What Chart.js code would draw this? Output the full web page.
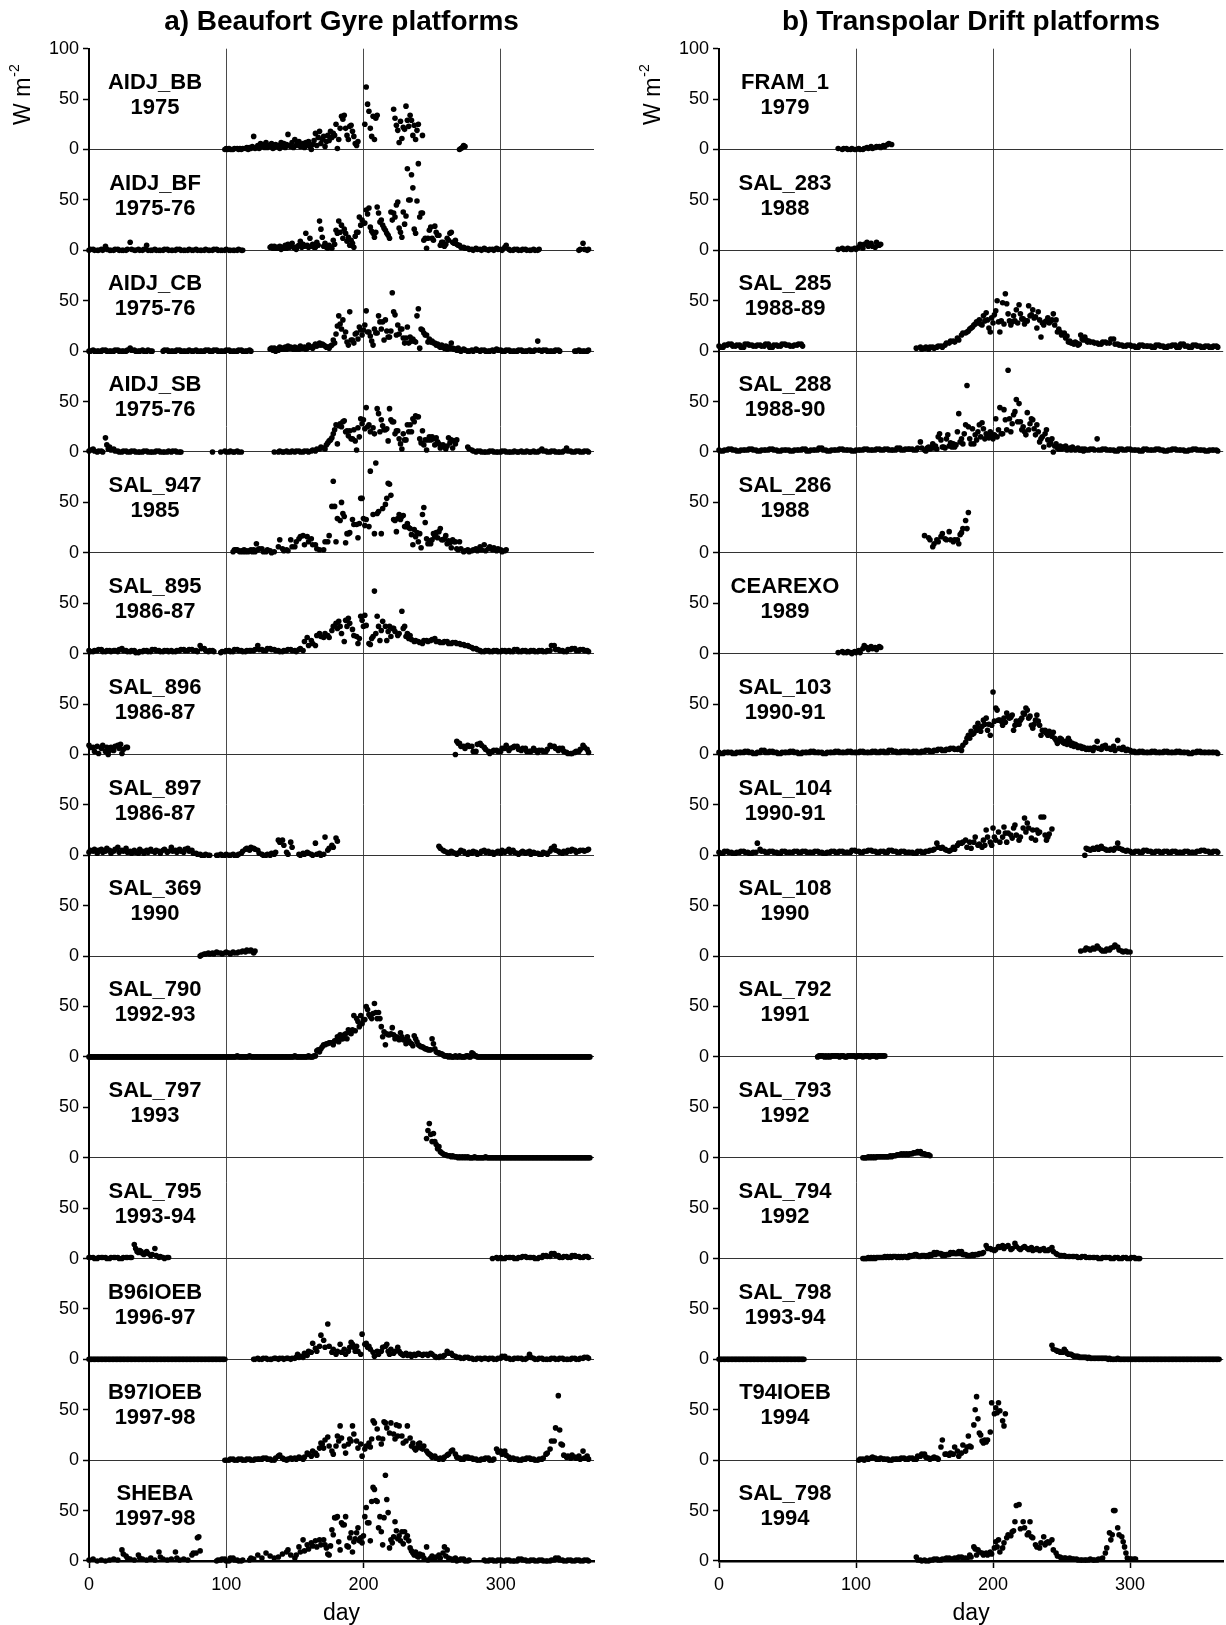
<!DOCTYPE html>
<html>
<head>
<meta charset="utf-8">
<title>Beaufort Gyre and Transpolar Drift platforms</title>
<script src="https://cdn.jsdelivr.net/npm/chart.js@4.4.0/dist/chart.umd.min.js"></script>
<style>
  html, body { margin: 0; padding: 0; background: #fff; }
  #wrap { position: relative; width: 1226px; height: 1625px; }
  canvas { position: absolute; top: 0; }
  #left { left: 0; }
  #right { left: 627px; }
</style>
</head>
<body>
<div id="wrap">
  <canvas id="left" width="613" height="1625"></canvas>
  <canvas id="right" width="599" height="1625"></canvas>
</div>
<script>
// values per 3-day slot (day 0, 3, 6 ... 363), one row = 30 days
// "a/b/c" = consecutive daily values inside the slot, "." = no data
const DAY_STEP = 3;
const DAY_MAX = 368;
const dayTicks = [0, 100, 200, 300];
const fluxTicksTop = [0, 50, 100];
const fluxTicks = [0, 50];

// a) Beaufort Gyre
const aidjBB_1975 = `
. . . . . . . . . .
. . . . . . . . . .
. . . . . . . . . .
. . . 0/1/0 1/0/0 0/1 1/0/1 0/1 1/2/0 2/1/3
13/1/2 4/1/6 3/5/2 7/2/4 3/6/1 2/5/3 4/1/7 3/6/2 5/15/4 3/7/2
10/4/6 8/3/5 6/2/7 4/8/3 0/5/9 16/4/12 18/6/10 13/3/8 14/9/18 12/16/14
25/1/10 21/33/30 34/21/14 10/23/24 18/13/6 4/8 . 25/62/45 38/21/13 33/10/31
34 . . . 40/31/24 19/7/28 11/22/20 43/29/23 34/29/14 24/10/19
25 14 . . . . . . . .
0/1/2 4/3 . . . . . . . .
. . . . . . . . . .
. . . . . . . . . .
. .`;

const aidjBF_1975_76 = `
0/1 1/0 0/0 1/0 4/1 0/0 0/1 1/0 0/0 0/1
8/1 0/0 1/0 0/1 5/0 0/0 1/0 0/0 0/1 1/0
0/0 0/1 1/0 0/0 0/1 0/0 1/0 0/0 0/1 0/0
0/1 1/0 0/0 0/1 0/0 0/0 0/1 0/0 . .
. . . . 3/4/2 4/2/3 2/4/1 3/2/5 2/6/3 4/7/3
2/1/4 5/9/3 6/4/17 5/3/12 4/6/3 3/8/5 29/21/13 4/7/3 2/5/3 2/10/6
20/17/29 18/25/12 21/17/9 13/5/10 7/3/14 18/18/33 25/30/27 27/40/36 42/23/19 17/13/18
43/37/28 30/25/22 20/17/15 12/38/30 37/33/45 48/22/18 13/38/26 34/81/50 50/75/62 21/17/49
86/33/37 37/10/12 2/12/20 23/12/10 24/18/15 15/5/8 8/4/6 12/10/17 18/8/7 10/6/5
5/3 3/2 2/1 1/0 2/1 1/0 2/1 0/1 1/0 2/1
1/0 3/5 1/0 0/1 1/0 0/1 1/0 0/0 1/0 0/1
. . . . . . . . . 0/1
7/1 0/1`;

const aidjCB_1975_76 = `
0/0 1/0 0/0 0/1 1/0 0/0 0/1 1/0 0/0 0/1
3/1 1/0 0/0 1/0 0/1 0/0 . . 0/1 1/0
0/0 0/1 1/0 0/0 0/1 0/0 1/0 0/0 0/1 1/0
0/1 1/0 0/0 0/1 1/0 0/0 0/1 1/0 0/0 1/0
. . . . 2/3/1 3/0/2 1/4/2 3/2/4 2/5/3 4/3/2
4/2/3 2/5/3 3/4/2 3/6/4 4/3/5 7/5/6 8/6/7 6/5/4 4/3/5 6/11/8
17/25/35 27/22/31 14/19/9 6/39/11 11/8/17 18/12/24 21/16/21 26/40/19 19/15/10 6/22/18
18/35/29 22/29/11 31/20/14 14/20/58 39/36/16 26/17/22 22/13/8 13/24/8 14/10/12 10/9/35
42/3/22 21/18/16 16/9/12 9/10/8 8/6/7 5/4/6 4/3/5 2/4/3 8/3/2 2/1/3
1/0 2/1 0/0 1/0 2/1 0/1 1/0 0/0 1/0 2/1
1/0 0/1 1/0 0/0 0/1 1/0 0/0 1/0 0/1 10/1
0/1 1/0 0/0 0/1 1/0 . . . 0/0 1/0
0/0 0/1`;

const aidjSB_1975_76 = `
1/2 3/1 0/1 1/0 14/7/3 5/2 3/1 1/0 0/1 1/0
0/1 1/0 0/0 0/1 1/0 0/0 0/1 1/0 0/0 0/1
0/1 1/0 0/0 . . . . . . .
0 . 0 1/0 0/1 0/0 1/0 0 . .
. . . . . 0 0/1 0/0 1/0 0/1
0/1 1/0 0/1 1/0 1/2 1/3 3/5 4/3/7 9/11/12 14/18/22
27/8/26 28/25/30 31/20/21 16/21/13 13/22/11 2/24/15 33/28/32 23/44/25 27/20 24/18
43/38/20 32/26/22 22/23/11 43/32/30 30/18/21 21/13/8 3/18/12 12/27/20 27/20/33 30/36/35
35/13/9 21/7/12 2/12/15 12/15/13 7/14/10 8/4/6 7/5/3 6/14/9 12/4/11 8/12
. . 5/3 2/1 0/1 1/0 0/0 0/1 1/0 0/0
0/1 1/0 0/0 0/1 0/0 1/0 0/1 0/0 1/0 0/1
3/1 1/0 0/1 1/0 0/0 0/1 4/1 1/0 0/1 1/0
0/1 1/0`;

const sal947_1985 = `
. . . . . . . . . .
. . . . . . . . . .
. . . . . . . . . .
. . . . . 1/3/3 3/2/1 2/1/3 1/2/1 2/3/1
3/1/9 3/4 4/1 1/3 2/0 1 6/13 4/2 3/2 13/6
6/11 14/16 17/8 16/11 14/8 8/4 3 3/11 11/17 46/71/46
11/34 32/50/39 36/10/19 19/20 33/28 28/15/29 54/54/34 27/33 26/81 38/19/89
39/41 19/44 48/54/69 68/57 33/32/21 34/38/33 36/37/26 26/29/25 24/18/8 23/16/20
11/19/5 38/45/30 14/9/12 9/13/19 16/20/15 21/24/13 13/14/17 9/12/10 5/13/11 11/4/3
11/4 1/2 3/1 2/3 4/2 6/3 8/2 4/6 3/5 2/4
3/1 2/3 . . . . . . . .
. . . . . . . . . .
. .`;

const sal895_1986_87 = `
3/2 2/3 3/4 4/2 2/3 3/2 3/3 2/4 5/3 3/2
2/3 3/1 1/2 2/3 3/2 2/4 4/3 3/2 2/3 3/2
3/2 2/3 3/4 4/3 3/4 4/3 3/2 8/5 5/3 2/3
3/2 . 1/2 2/3 3/2 2/4 4/3 3/2 2/3 3/3
3/4 8/4 4/3 3/5 5/4 4/3 3/2 2/3 3/4 4/3
3/2 4/5 3/12 16/8 13/10 8/18 20/17 16/20 18/16 23/27
30/25/32 27/20 12/33/27 35/30 24/18 17/10/15 37/33/27 38/28 10/9/15 17/62/20
37/27/13 23/32 27/13/22 27/17/25 25/22 18/20 42/25/27 17/20/15 18/14 12/13
12/11 10/13 13/12 13/14 15/12 12/11 11/12 12/10 10/11 11/10
10/9 9/8 8/7 6/5 5/4 3/2 2/3 3/2 2/3 3/2
2/3 3/2 3/2 2/4 4/2 2/3 3/2 2/3 3/2 2/3
3/2 2/3 3/8 8/4 4/3 3/2 2/4 4/5 5/3 3/4
4/3 3/2`;

const sal896_1986_87 = `
9/7 7/3 8/1 6/9 3/7/0 4/7 4/8 9/6/10 1/5 7/7
. . . . . . . . . .
. . . . . . . . . .
. . . . . . . . . .
. . . . . . . . . .
. . . . . . . . . .
. . . . . . . . . .
. . . . . . . . . .
. . . . . . . . . 0/13/11
11/8 8/6 9/8 8/3 3/10 11/9 7/5 3/1 3/4 4/3
3/6 6/9 4/6 7/8 8/5 4/6 6/3 3/3 6/4 2/4
4/3 3/5 9/8 8/6 4/6 6/3 2/1 1/1 2/3 3/5
9/7 5/2`;

const sal897_1986_87 = `
3/5 4/6 2/5 6/3 4/7 5/2 4/6 8/3 5/4 7/3
4/2 5/3 2/6 4/2 5/3 6/4 3/5 4/2 5/6 3/4
8/4 5/3 6/4 3/6 7/4 5/2 2/1 1/0 0/1 0/0
. 0/0 1/0 0/1 0/0 1/0 0/1 2/4 6/7 5/8
7/6 5/2 1/0 0/1 0/2 1/3 15/13 15/10 3/1 13/8
. 1/0 2/1 3/2 1/0 12/1 2/0 1/18 5/7 10/8
17/14 . . . . . . . . .
. . . . . . . . . .
. . . . . 9/7 5/4 3/2 4/3 2/1
3/5 4/2 1/3 2/4 3/1 2/4 5/3 4/2 3/1 3/4
2/5 3/4 6/3 5/3 2/1 3/4 2/3 4/1 3/2 2/1
1/3 2/1 4/7 9/5 4/3 2/4 3/5 4/6 5/3 4/5
5/4 5/6`;

const sal369_1990 = `
. . . . . . . . . .
. . . . . . . . . .
. . . . . . . 0/1 2/2 3/2
3/2 4/3 3/2 3/4 3/2 4/3 3/4 4/5 4/6 5/6
3/5 . . . . . . . . .
. . . . . . . . . .
. . . . . . . . . .
. . . . . . . . . .
. . . . . . . . . .
. . . . . . . . . .
. . . . . . . . . .
. . . . . . . . . .
. .`;

const sal790_1992_93 = `
0/0/0 0/0/0 0/0/0 0/0/0 0/0/0 0/0/0 0/0/0 0/0/0 0/0/0 0/0/0
0/0/0 0/0/0 0/0/0 0/0/0 0/0/0 0/0/0 0/0/0 0/0/0 0/0/0 0/0/0
0/0/0 0/0/0 0/0/0 0/0/0 0/0/0 0/0/0 0/0/0 0/0/0 0/0/0 0/0/0
0/0/0 0/0/0 0/0/0 0/0/0 0/0/0 0/0/0 1/0/0 0/0/0 0/0/0 1/0/0
0/0/0 0/0/0 0/0/0 0/0/0 0/0/0 0/0/0 0/0/0 0/0/0 0/0/0 0/0/0
1/0/0 0/0/0 0/0/0 0/1/0 0/0/1 1/6/7 5/8/10 12/12/13 13/14/14 14/12/16
16/20/15 22/18/18 22/23/18 27/24/23 27/41/26 38/35/30 41/33/37 37/50/47 42/40/38 43/53/44
38/44/38 30/20/25 12/23/22 22/23/29 22/18/20 19/17/24 20/17/17 13/20/16 14/13/11 21/18/15
12/11/10 10/9/8 8/7/7 7/18/13 8/5/4 4/3/3 2/1/1 1/0/1 0/0/0 1/0/0
1/0/0 0/0/1 1/0/0 4/3/1 1/0/0 0/0/0 0/0/0 0/0/0 0/0/0 0/0/0
0/0/0 0/0/0 0/0/0 0/0/0 0/0/0 0/0/0 0/0/0 0/0/0 0/0/0 0/0/0
0/0/0 0/0/0 0/0/0 0/0/0 0/0/0 0/0/0 0/0/0 0/0/0 0/0/0 0/0/0
0/0/0 0/0/0`;

const sal797_1993 = `
. . . . . . . . . .
. . . . . . . . . .
. . . . . . . . . .
. . . . . . . . . .
. . . . . . . . . .
. . . . . . . . . .
. . . . . . . . . .
. . . . . . . . . .
. . 19/27/34 23/16/24 16/13/9 11/6/5 4/3/3 2/2/2 1/2/1 1/1/0
1/0/1 0/1/0 1/0/0 0/0/1 0/0/0 0/0/0 0/1/0 0/0/0 0/0/0 0/0/0
0/0/0 0/0/0 0/0/0 0/0/0 0/0/0 0/0/0 0/0/0 0/0/0 0/0/0 0/0/0
0/0/0 0/0/0 0/0/0 0/0/0 0/0/0 0/0/0 0/0/0 0/0/0 0/0/0 0/0/0
0/0/0 0/0/0`;

const sal795_1993_94 = `
1/1 1/0 0/1 1/1 1/0 0/1 1/1 1/0 0/1 1/1
1/1 14/10/7 6/8/7 5/4 7/5 3/4 10/3 1/2 1/0 1/1
. . . . . . . . . .
. . . . . . . . . .
. . . . . . . . . .
. . . . . . . . . .
. . . . . . . . . .
. . . . . . . . . .
. . . . . . . . . .
. . . . . . . . 0 1/0
1/0 0/1 1/1 1/0 0/1 1/2 2/1 1/1 1/0 0/1
1/3 3/2 2/5 5/3 3/1 1/2 2/1 1/3 3/2 2/1
1/2 2/1`;

const b96ioeb_1996_97 = `
0/0/0 0/0/0 0/0/0 0/0/0 0/0/0 0/0/0 0/0/0 0/0/0 0/0/0 0/0/0
0/0/0 0/0/0 0/0/0 0/0/0 0/0/0 0/0/0 0/0/0 0/0/0 0/0/0 0/0/0
0/0/0 0/0/0 0/0/0 0/0/0 0/0/0 0/0/0 0/0/0 0/0/0 0/0/0 0/0/0
0/0/0 0/0/0 0/0/0 0 . . . . . .
0/0 1/0 0/1 1/0 0/0 1/1 0/1 1/0 1/1 0/1
1/2/5 2/3 2/6 4/8 7/16 11/8 13/24 19/12 35/13 7/10
5/8 15/7 10/5 8/12/17 15/12/8 13/8 5/25 15/16/12 13/10 7/3
8/5 8/12 13/15/8 5/10 6/8 12/8/6 5/4 6/4 5/3 5/4
6/5 4/5 5/4 6/5 3/2 2/3 3/4 8/6 6/4 3/2
2/1 1/2 2/1 1/0 0/1 1/0 1/1 0/1 1/0 0/1
1/3 3/1 1/0 0/1 1/1 1/0 0/1 5/2 1/0 0/1
1/0 0/0 0/1 1/0 0/1 1/0 0/0 0/1 1/0 0/1
1/2 2/1`;

const b97ioeb_1997_98 = `
. . . . . . . . . .
. . . . . . . . . .
. . . . . . . . . .
. . . 0/0 0/1 1/0 0/1 1/0 0/1 1/0
0/1 1/1 1/2 2/1 1/0 0/2 4/5 2/1 0/1 2/1
2/1 3/2 1/3 7/6 4/9 7/5 12/17/16 12/20 23/14 9/6
14/24/19 34/22 14/7 16/21/19 34/26 19/12 16/4 11/14 17/13/21 39/37
31/22 16/21/38 37/32 27/37 26/21/35 24/34 24/17 19/34 22/14/17 12/10/12
16/17/12 11/14 9/7/6 5/3 4/2 1/2 1/3 5/6 9/10 6/3
2/1 1/3 3/2 2/1 1/0 0/1 1/2 2/0 0/1 11/8
9/6 9/5 3/1 2/1 1/0 0/1 1/2 2/1 1/0 0/1
1/2 6/7 11/19 19/32 64/30/16 15/5 3/4 2/5 3/2 4/1
9/2 4/1`;

const sheba_1997_98 = `
1 2 0 1 0 1 2 1 11/7 5/3
2 1 6/3 2 1 3 1 9/4 2 1
2 9/3 1 2 1 6/8 8/23/24 10 . .
. 0/1 1/2 2/0 0/3 3/1 1/0 0/1 . 1/3
2 6 3 8 5 3 4 7 9/11 6
3/6 14/9 21/10 16/12 18/15 20/14 21/16 21/16/13 7/6/15 31/26/43
43/44/19 11/38/36 36/44/15 14/23/28 9/19/22 28/33/20 23/18/25 44/53/38 38/20/59 73/71/60
59/33/44 29/16/43 85/61/48 13/21/18 24/39/30 22/25/20 29/17/29 23/25/20 13/10/8 6/9/5
4/7 6/3 14/1 3/5 2/4 6/3 8/14/5 11/3 2/1 3/0
1/2 2/0 0/1 . . . 1/0 0/1 1/0 0/1
1/0 0/1 1/0 0/0 0/2 2/1 1/0 0/1 1/0 0/1
1/0 0/0 0/1 1/3 3/1 1/0 0/1 1/0 0/1 1/0
0/1 1/0`;

// b) Transpolar Drift
const fram1_1979 = `
. . . . . . . . . .
. . . . . . . . . .
. . . . . . . . . 1
0/1 1/0 0/1 0/0 1/0 0/1 2/1 3/1 2/3 3/2
4/3 5/6 5 . . . . . . .
. . . . . . . . . .
. . . . . . . . . .
. . . . . . . . . .
. . . . . . . . . .
. . . . . . . . . .
. . . . . . . . . .
. . . . . . . . . .
. .`;

const sal283_1988 = `
. . . . . . . . . .
. . . . . . . . . .
. . . . . . . . . 1
2/1 1/2 1/1 2/1 3/6 2/6 8/4 7/4 3/8 5/6
. . . . . . . . . .
. . . . . . . . . .
. . . . . . . . . .
. . . . . . . . . .
. . . . . . . . . .
. . . . . . . . . .
. . . . . . . . . .
. . . . . . . . . .
. .`;

const sal285_1988_89 = `
5/4 4/6 6/7 7/5 5/6 6/4 4/7 7/6 6/5 5/6
6/5 5/7 7/4 4/6 6/5 5/7 7/6 6/5 5/6 6/7
7/5 . . . . . . . . .
. . . . . . . . . .
. . . . . . . . 3 4/2
3/4 2/4 4/3 4/5 5/4 6/8 8/10 10/9 13/11 16/18
18/19/20 22/23/24 26/27/29 28/31/27 26/35/30 38/31/23 19/33/28 36/40/50 29/19/30 48/27/57
47/37/30 26/29/35 30/41/28 46/37/32 32/27/30 30/45/35 36/41/33 34/23/39 31/14/28 26/29/30
33/28/30 31/37/26 31/19/22 19/16 18/13/15 9/10/8 8/7/9 8/6/7 16/12/11 14/11/9
10/9 9/8 8/7 7/9 9/8 8/12 12/7 7/6 6/5 5/6
6/5 5/4 4/6 6/5 5/5 5/4 4/6 6/5 5/4 4/5
5/6 6/4 4/7 7/5 5/4 4/6 6/5 5/4 4/5 5/4
4/5 5/4`;

const sal288_1988_90 = `
2/1 1/2 2/3 3/2 2/1 1/2 2/2 2/3 3/2 2/1
1/2 2/2 2/3 3/2 2/1 1/2 2/2 2/1 1/2 2/2
2/3 3/1 1/2 2/2 2/4 4/2 2/1 1/2 2/2 2/3
3/2 2/2 2/1 1/2 2/2 2/3 3/2 2/2 2/3 3/2
2/3 3/2 2/2 2/4 4/2 2/3 3/3 3/2 2/4 10/4
2/1/4 5/3/4 8/4/6 3/15/18 12/5/5 4/13/17 6/9/5 8/5/7 20/38/10 13/8/18
27/66/25 13/8/23 8/17/12 20/27/15 29/23/13 18/16/14 20/17/13 17/33/15 22/44/18 18/42/32
22/81/33 20/28/37 40/52/30 48/30/22 25/20/17 39/22/28 33/32/23 17/27/20 10/13/15 5/18/22
12/7/9 13/0/6 8/4/3 6/3/5 4/6/2 3/4/2 5/3/2 3/4/2 2/3/1 3/2
2/3 3/2 13/2 2/3 3/2 2/2 2/1 1/3 3/2 2/3
3/2 2/2 2/1 1/3 3/2 2/2 2/3 3/2 2/1 1/2
2/3 3/2 2/2 2/1 1/2 2/3 3/2 2/2 2/1 1/2
2/2 2/1`;

const sal286_1988 = `
. . . . . . . . . .
. . . . . . . . . .
. . . . . . . . . .
. . . . . . . . . .
. . . . . . . . . .
17 15/13 6/9 13/11 16/19 14/13 21/13 11/13 13/9/18 20/24
32/24/40 . . . . . . . . .
. . . . . . . . . .
. . . . . . . . . .
. . . . . . . . . .
. . . . . . . . . .
. . . . . . . . . .
. .`;

const cearexo_1989 = `
. . . . . . . . . .
. . . . . . . . . .
. . . . . . . . . 1
2/1 1/2 1/0 2/1 3/1 5/8 6/4 7/5 6/4 7/6
. . . . . . . . . .
. . . . . . . . . .
. . . . . . . . . .
. . . . . . . . . .
. . . . . . . . . .
. . . . . . . . . .
. . . . . . . . . .
. . . . . . . . . .
. .`;

const sal103_1990_91 = `
2/1 1/2 2/2 2/1 1/2 2/2 2/3 3/2 2/1 1/2
2/4 4/2 2/3 3/2 2/1 1/2 2/2 2/3 3/2 2/1
1/2 2/2 2/3 3/2 2/2 2/1 1/2 2/2 2/3 3/2
2/2 2/3 3/2 2/2 2/3 3/2 2/2 2/3 3/2 2/3
3/2 2/4 4/3 3/2 2/3 3/3 3/2 2/3 3/2 2/3
3/4 4/3 3/4 4/5 5/4 4/5 5/6 6/5 5/6 4/9
12/16/19 16/23/20 21/27/24 31/26/23 28/34/30 36/24/30 19/29/62 33/46/44 34/34/33 29/36/32
41/38/36 37/39/24 29/33/30 30/34/36 41/40/46 44/36/38 29/26/30 34/39/33 29/19/24 23/24/21
19/23/20 18/22/16 14/11/13 16/15/12 11/13/10 16/13/9 11/8/10 9/7/8 8/6/7 6/5/6
5/6 4/7 13/6 5/8 9/6 6/5 8/4 14/6 5/7 4/5
4/3 3/2 2/3 3/2 2/2 2/3 3/2 2/2 2/3 3/2
2/2 2/3 3/2 2/2 2/1 1/2 2/3 3/2 2/2 2/2
2/2 2/1`;

const sal104_1990_91 = `
3/2 2/4 4/3 3/2 2/3 3/4 4/3 3/2 2/3 3/12
6/4 4/3 3/4 4/3 3/2 2/4 4/3 3/3 3/4 4/3
3/4 4/3 3/3 3/4 4/3 3/2 2/3 3/4 4/3 3/4
4/3 3/3 3/5 5/4 4/3 3/4 4/5 5/4 4/3 3/4
4/3 3/5 5/4 4/3 3/4 4/3 3/3 3/2 2/4 4/3
3/4 4/5 5/6 12/8 7/8 6/5 4/5 8/6 10/12 12/13
15/8 13/7 13/18 10/11 8/15/10 25/18 13/10/27 18/15 23/13 18/28/22
13/22 20/17/27 30/20 15/18 27/37/23 32/27 17/25 15/25/22 23/38 38/20/15
18/21 26 . . . . . . . 0/7/6
6/5 7/6 8/6 9/7 6/5 5/6 5/7 12/7 6/5 4/5
4/3 3/4 4/3 3/5 5/4 4/3 3/4 4/3 3/4 4/3
3/4 4/3 3/3 3/4 4/3 3/3 3/4 4/5 5/4 4/3
3/4 4/3`;

const sal108_1990 = `
. . . . . . . . . .
. . . . . . . . . .
. . . . . . . . . .
. . . . . . . . . .
. . . . . . . . . .
. . . . . . . . . .
. . . . . . . . . .
. . . . . . . . . .
. . . . . . . . 5 6/8
7/6 8/7 10/8 6/5 5/7 6/8 9/11 9/6 5/4 5/4
4 . . . . . . . . .
. . . . . . . . . .
. .`;

const sal792_1991 = `
. . . . . . . . . .
. . . . . . . . . .
. . . . 0/1/1 1/1/0 1/0/1 0/1/1 1/1/1 1/0/1
1/1/0 0/1/1 1/1/1 1/0/1 1/1/1 0/1/1 1/1/0 1/1/1 1/0/1 1/1/1
1/1 . . . . . . . . .
. . . . . . . . . .
. . . . . . . . . .
. . . . . . . . . .
. . . . . . . . . .
. . . . . . . . . .
. . . . . . . . . .
. . . . . . . . . .
. .`;

const sal793_1992 = `
. . . . . . . . . .
. . . . . . . . . .
. . . . . . . . . .
. . . . . 0/0/0 0/1/0 1/0/1 0/1/1 1/1/1
1/1/1 1/1/2 1/2/2 2/3/3 3/4/3 4/3/4 3/4/4 4/5/5 5/6/5 6/4/4
4/3/3 3/2 . . . . . . . .
. . . . . . . . . .
. . . . . . . . . .
. . . . . . . . . .
. . . . . . . . . .
. . . . . . . . . .
. . . . . . . . . .
. .`;

const sal794_1992 = `
. . . . . . . . . .
. . . . . . . . . .
. . . . . . . . . .
. . . . . 0/0/0 0/1/0 1/0/1 0/1/1 1/1/1
1/2/1 2/1/2 1/2/2 2/1/2 1/2/1 2/2/1 1/3/2 3/3/4 4/3/2 2/3/3
3/2/3 2/4/3 4/6/4 6/5/5 5/3/4 3/4/4 4/6/5 6/5/5 5/7/5 7/4/4
4/3/3 3/3/4 3/4/4 4/5/5 5/6 13/10 10/9 8/9 12/11 13/10
12/13 9/10 15/12 10/9 11/12 10/9 11/8 9/10 8/9 10/8
8/9 11/7 5/4 3/3 3/2 2/2 2/2 2/1 1/2 2/1
1/1 1/1 1/0 0/1 1/1 1/0 0/1 1/0 0/1 1/0
0/1 1/0 0/0 . . . . . . .
. . . . . . . . . .
. .`;

const sal798_1993_94 = `
0/0/0 0/0/0 0/0/0 0/0/0 0/0/0 0/0/0 0/0/0 0/0/0 0/0/0 0/0/0
0/0/0 0/0/0 0/0/0 0/0/0 0/0/0 0/0/0 0/0/0 0/0/0 0/0/0 0/0/0
0/0/0 . . . . . . . . .
. . . . . . . . . .
. . . . . . . . . .
. . . . . . . . . .
. . . . . . . . . .
. . . . . . . . . .
. 14/10 9/8/8 7/7/7 10/8/6 5/5/5 4/3/3 3/3/2 2/2/2 2/2/1
2/1/1 1/1/1 1/1/1 1/1/1 1/1/0 1/0/0 0/0/0 1/0/0 0/0/0 0/0/0
0/0/0 0/0/0 0/0/0 0/0/0 0/0/0 0/0/0 0/0/0 0/0/0 0/0/0 0/0/0
0/0/0 0/0/0 0/0/0 0/0/0 0/0/0 0/0/0 0/0/0 0/0/0 0/0/0 0/0/0
0/0/0 0/0/0`;

const t94ioeb_1994 = `
. . . . . . . . . .
. . . . . . . . . .
. . . . . . . . . .
. . . . 0/1 1/0 2/1 2/3 2/1 1/2
1/1 1/0 0/1 1/1 1/2 2/1 1/2 2/1 1/4 4/6
6/3 2/1 2/3 2/1 13/20 6/6 5/7 6/13 9/4 7/15
9/13/24 14/13 35/50/63 41/27/25 19/17/20 18/20 28/57 46/52/47 57/49 39/34/46
. . . . . . . . . .
. . . . . . . . . .
. . . . . . . . . .
. . . . . . . . . .
. . . . . . . . . .
. .`;

const sal798_1994 = `
. . . . . . . . . .
. . . . . . . . . .
. . . . . . . . . .
. . . . . . . . . .
. . . . . . . . 4/1 1/0
1/0 0/1 1/2 2/1 1/2 2/3 3/2 2/3 3/4 4/3
3/2 6/4 14/12/6 11/9 8/6 8/6 9/7 13/19/14 21/9 13/18
23/26 25/29/30 39/55 56/32 39/33 26/28/39 24/23 16/14 13/18 24/16/18
19/18 21/11 8/5 4/3 3/3 2/3 2/2 2/1 1/1 1/1
1/2 1/1 1/2 2/3 8/13 28/21/26 50/50 33/26 24/19/14 8/3
2/2 2/2 . . . . . . . .
. . . . . . . . . .
. .`;

const beaufortNames = ["AIDJ_BB", "AIDJ_BF", "AIDJ_CB", "AIDJ_SB", "SAL_947", "SAL_895", "SAL_896",
  "SAL_897", "SAL_369", "SAL_790", "SAL_797", "SAL_795", "B96IOEB", "B97IOEB", "SHEBA"];
const beaufortYears = ["1975", "1975-76", "1975-76", "1975-76", "1985", "1986-87", "1986-87",
  "1986-87", "1990", "1992-93", "1993", "1993-94", "1996-97", "1997-98", "1997-98"];
const beaufortSeries = [aidjBB_1975, aidjBF_1975_76, aidjCB_1975_76, aidjSB_1975_76, sal947_1985,
  sal895_1986_87, sal896_1986_87, sal897_1986_87, sal369_1990, sal790_1992_93, sal797_1993,
  sal795_1993_94, b96ioeb_1996_97, b97ioeb_1997_98, sheba_1997_98];

const transpolarNames = ["FRAM_1", "SAL_283", "SAL_285", "SAL_288", "SAL_286", "CEAREXO", "SAL_103",
  "SAL_104", "SAL_108", "SAL_792", "SAL_793", "SAL_794", "SAL_798", "T94IOEB", "SAL_798"];
const transpolarYears = ["1979", "1988", "1988-89", "1988-90", "1988", "1989", "1990-91",
  "1990-91", "1990", "1991", "1992", "1992", "1993-94", "1994", "1994"];
const transpolarSeries = [fram1_1979, sal283_1988, sal285_1988_89, sal288_1988_90, sal286_1988,
  cearexo_1989, sal103_1990_91, sal104_1990_91, sal108_1990, sal792_1991, sal793_1992,
  sal794_1992, sal798_1993_94, t94ioeb_1994, sal798_1994];

const FONT = "'Liberation Sans', Arial, Helvetica, sans-serif";
Chart.defaults.font.family = FONT;
Chart.defaults.color = '#000';

function toPoints(series) {
  const pts = [];
  series.trim().split(/\s+/).forEach((tok, slot) => {
    if (tok === '.') return;
    tok.split('/').forEach((v, k) => {
      pts.push({ x: slot * DAY_STEP + k, y: Number(v) });
    });
  });
  return pts;
}

// platform names, years and the W m-2 unit
const panelLabels = {
  id: 'panelLabels',
  afterDraw(chart, args, opts) {
    const { ctx, chartArea } = chart;
    ctx.save();
    ctx.fillStyle = '#000';
    ctx.textAlign = 'center';
    ctx.textBaseline = 'middle';
    ctx.font = 'bold 22px ' + FONT;
    opts.names.forEach((name, i) => {
      const sc = chart.scales['y' + i];
      const x = chartArea.left + 66;
      ctx.fillText(name, x, sc.top + 34);
      ctx.fillText(opts.years[i], x, sc.top + 59);
    });

    const top = chart.scales.y0;
    ctx.translate(chartArea.left - 65, (top.top + top.bottom) / 2 - 4);
    ctx.rotate(-Math.PI / 2);
    ctx.textAlign = 'left';
    ctx.font = '23px ' + FONT;
    const w1 = ctx.measureText('W m').width;
    ctx.font = '14px ' + FONT;
    const w2 = ctx.measureText('-2').width;
    const start = -(w1 + w2) / 2;
    ctx.font = '23px ' + FONT;
    ctx.fillText('W m', start, 0);
    ctx.font = '14px ' + FONT;
    ctx.fillText('-2', start + w1 + 1, -9);
    ctx.restore();
  }
};

function makeColumn(canvasId, title, names, years, series, axisWidth, padRight) {
  const scales = {
    x: {
      type: 'linear',
      position: 'bottom',
      min: 0,
      max: DAY_MAX,
      afterBuildTicks: sc => { sc.ticks = dayTicks.map(v => ({ value: v })); },
      afterFit: sc => { sc.height = 64; },
      grid: {
        color: c => (c.tick && c.tick.value === 0) ? 'rgba(0,0,0,0)' : '#4a4a4a',
        lineWidth: 1,
        tickLength: 7,
        tickColor: '#000',
        tickWidth: 1.5
      },
      border: { color: '#000', width: 2.5 },
      ticks: { color: '#000', font: { size: 18 }, padding: 6, maxRotation: 0 },
      title: { display: true, text: 'day', color: '#000', font: { size: 23, lineHeight: 1 }, padding: 0 }
    }
  };

  series.forEach((s, i) => {
    scales['y' + i] = {
      type: 'linear',
      position: 'left',
      stack: 'panels',
      stackWeight: 1,
      weight: series.length - i,
      min: 0,
      max: 100,
      afterBuildTicks: sc => {
        sc.ticks = (i === 0 ? fluxTicksTop : fluxTicks).map(v => ({ value: v }));
      },
      afterFit: sc => { sc.width = axisWidth; },
      ticks: { autoSkip: false, color: '#000', font: { size: 18 }, padding: 4 },
      grid: {
        color: c => (c.tick && c.tick.value === 0) ? '#333' : 'rgba(0,0,0,0)',
        lineWidth: 1,
        tickLength: 6,
        tickColor: '#000',
        tickWidth: 1.5
      },
      border: { display: true, color: '#000', width: 2 }
    };
  });

  const datasets = series.map((s, i) => ({
    data: toPoints(s),
    xAxisID: 'x',
    yAxisID: 'y' + i,
    showLine: false,
    clip: 5,
    pointRadius: 2.8,
    pointHoverRadius: 2.8,
    pointBorderWidth: 0,
    pointBackgroundColor: '#000',
    borderColor: '#000'
  }));

  return new Chart(document.getElementById(canvasId), {
    type: 'scatter',
    data: { datasets },
    options: {
      responsive: false,
      animation: false,
      devicePixelRatio: 1,
      events: [],
      layout: { padding: { left: 0, right: padRight, top: 0, bottom: 0 } },
      scales,
      plugins: {
        legend: { display: false },
        tooltip: { enabled: false },
        title: {
          display: true,
          text: title,
          fullSize: false,
          color: '#000',
          font: { size: 28, weight: 'bold', lineHeight: 1 },
          padding: { top: 8, bottom: 12.7 }
        },
        panelLabels: { names, years }
      }
    },
    plugins: [panelLabels]
  });
}

makeColumn('left', 'a) Beaufort Gyre platforms', beaufortNames, beaufortYears, beaufortSeries, 89, 19);
makeColumn('right', 'b) Transpolar Drift platforms', transpolarNames, transpolarYears, transpolarSeries, 92, 2);
</script>
</body>
</html>
